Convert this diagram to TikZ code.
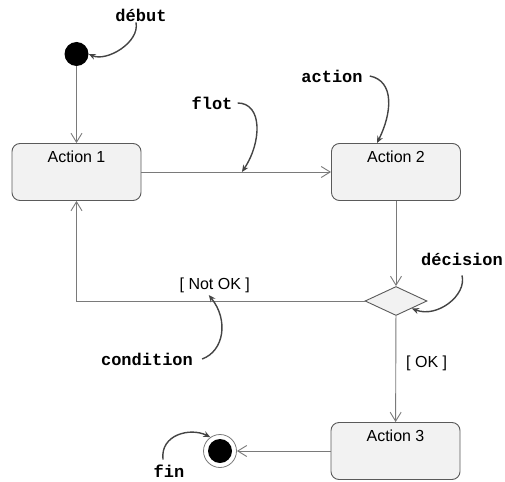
\documentclass[tikz,border=0pt]{standalone}
\usepackage{fontspec}
\setmainfont{Liberation Sans}
\setmonofont{Liberation Mono}
\usepackage{xcolor}
\usepackage{tikz}
\usetikzlibrary{
    shapes.geometric,
    arrows.meta
}
\definecolor{boxfill}{HTML}{F2F2F2}
\definecolor{boxgray}{HTML}{5A5A5A}
\definecolor{flowgray}{HTML}{7A7A7A}
\definecolor{notegray}{HTML}{444444}
\tikzset{
  action/.style = {
      draw=boxgray,
      fill=boxfill,
      rectangle,
      rounded corners=8pt,
      line width=0.9pt,
      minimum width=129pt,
      inner xsep=0pt,
      inner ysep=0pt,
      text height=19pt,
      text depth=38pt,
      font=\fontsize{16}{18}\selectfont
  },
  choice/.style = {
      draw=boxgray,
      fill=boxfill,
      diamond,
      line width=0.9pt,
      aspect=2.1,
      minimum width=62pt,
      minimum height=29pt,
      inner sep=0pt
  },
  initial/.style = {
      circle,
      fill=black,
      minimum size=24pt,
      inner sep=0pt
  },
  final/.style = {
      circle,
      draw=flowgray,
      fill=white,
      line width=0.8pt,
      minimum size=33pt,
      inner sep=0pt
  },
  disc/.style = {
      initial,
      minimum size=24pt
  },
  note/.style = {
      font=\ttfamily\bfseries\fontsize{17}{19}\selectfont,
      inner sep=1pt
  },
  guard/.style = {
      font=\fontsize{16}{18}\selectfont,
      inner sep=2pt
  },
  flow/.style = {
      draw=flowgray,
      line width=0.9pt,
      -{Straight Barb[length=9pt,width=11pt]}
  },
  pointer/.style = {
      draw=notegray,
      line width=1.4pt,
      -{Stealth[length=7pt,width=6pt]}
  }
}
\begin{document}
\begin{tikzpicture}[x=1pt, y=-1pt]
        \useasboundingbox (0,0) rectangle (505,481);
        \node[initial] (start) at (76.5,54) {};
        \node[action] (a1) at (76.5,172) {Action 1};
        \node[action] (a2) at (396,172) {Action 2};
        \node[choice] (dec) at (396,301) {};
        \node[action] (a3) at (395.5,451) {Action 3};
        \node[final] (end) at (220,451) {};
        \node[disc] (endin) at (end) {};
        % Notes
        \node[note] (debut) at (141,15) {début};
        \node[note] (flot) at (212,103) {flot};
        \node[note] (act) at (332,76) {action};
        \node[note] (decis) at (462,259) {décision};
        \node[note] (cond) at (147,359) {condition};
        \node[note] (fin) at (169,471) {fin};
        % Edges
        \path[flow] (start) -- (a1);
        \path[flow] (a1) -- coordinate[pos=0.53] (flowpt) (a2);
        \path[flow] (a2) -- (dec);
        \path[flow] (dec) -- node[guard, pos=0.45, right=8pt] {[ OK ]} (a3);
        \path[flow] (dec.west) -| node[guard, pos=0.26, above=6pt] (notok) {[ Not OK ]} (a1.south);
        \path[flow] (a3) -- (end);
        % Pointers
        \draw[pointer] ([xshift=-5pt]debut.south) .. controls +(4,20) and +(18,8) .. (start.east);
        \draw[pointer] ([xshift=4pt]flot.east) .. controls +(25,0) and +(20,-30) .. (flowpt);
        \draw[pointer] ([xshift=6pt]act.east) .. controls +(25,5) and +(15,-30) .. ([xshift=-19pt]a2.north);
        \draw[pointer] ([yshift=-9pt]decis.south) .. controls +(5,20) and +(25,10) .. (dec.-25);
        \draw[pointer] ([xshift=8pt]cond.east) .. controls +(22,-8) and +(20,25) .. ([xshift=-6pt]notok.south);
        \draw[pointer] ([xshift=-6pt,yshift=4pt]fin.north) .. controls +(-3,-25) and +(-20,-10) .. (end.125);
    \end{tikzpicture}
\end{document}
